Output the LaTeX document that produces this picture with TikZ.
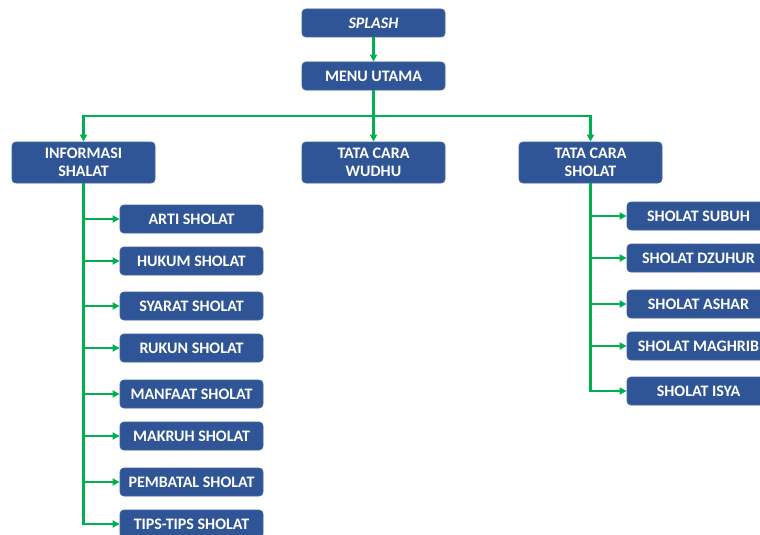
\documentclass[tikz,border=0pt]{standalone}
\usepackage{fontspec}
\setmainfont{Carlito}
\usetikzlibrary{arrows.meta}
\definecolor{boxblue}{HTML}{2F5597}
\definecolor{boxedge}{HTML}{41649E}
\definecolor{linegreen}{HTML}{00B050}
\begin{document}
\begin{tikzpicture}[x=1pt,y=-1pt,
  box/.style={draw=boxedge,line width=0.8pt,fill=boxblue,rounded corners=4pt,minimum width=143pt,minimum height=28pt,inner sep=0pt,
    text=white,font=\fontsize{16}{18.5}\selectfont\bfseries,align=center},
  tallbox/.style={box,minimum height=41pt},
  conn/.style={draw=linegreen,line width=2.4pt,-{Triangle[length=7pt,width=7pt]}},
  plain/.style={draw=linegreen,line width=2.4pt}]
\useasboundingbox (0,0) rectangle (760,535);
\node[box] (splash) at (373.5,23) {\itshape SPLASH};
\node[box] (menu) at (373.5,76) {MENU UTAMA};
\node[tallbox] (info) at (83.5,162.5) {INFORMASI\\SHALAT};
\node[tallbox] (wudhu) at (373.5,162.5) {TATA CARA\\WUDHU};
\node[tallbox] (sholat) at (590.5,162.5) {TATA CARA\\SHOLAT};
% left children
\node[box] (arti) at (191.5,219) {ARTI SHOLAT};
\node[box] (hukum) at (191.5,261) {HUKUM SHOLAT};
\node[box] (syarat) at (191.5,306) {SYARAT SHOLAT};
\node[box] (rukun) at (191.5,348) {RUKUN SHOLAT};
\node[box] (manfaat) at (191.5,394) {MANFAAT SHOLAT};
\node[box] (makruh) at (191.5,436) {MAKRUH SHOLAT};
\node[box] (pembatal) at (191.5,482) {PEMBATAL SHOLAT};
\node[box] (tips) at (191.5,524) {TIPS-TIPS SHOLAT};
% right children
\node[box] (subuh) at (698.5,216) {SHOLAT SUBUH};
\node[box] (dzuhur) at (698.5,258) {SHOLAT DZUHUR};
\node[box] (ashar) at (698.5,304) {SHOLAT ASHAR};
\node[box] (maghrib) at (698.5,346) {SHOLAT MAGHRIB};
\node[box] (isya) at (698.5,391) {SHOLAT ISYA};
% connectors
\coordinate (hj) at (373.5,116);
\draw[conn] (splash) -- (menu);
\draw[plain] (menu.south) -- (hj);
\draw[conn] (hj) -| (info.north);
\draw[conn] (hj) -- (wudhu.north);
\draw[conn] (hj) -| (sholat.north);
\foreach \c in {arti,hukum,syarat,rukun,manfaat,makruh,pembatal,tips}
  \draw[conn] (info.south) |- (\c.west);
\foreach \c in {subuh,dzuhur,ashar,maghrib,isya}
  \draw[conn] (sholat.south) |- (\c.west);
\end{tikzpicture}
\end{document}
